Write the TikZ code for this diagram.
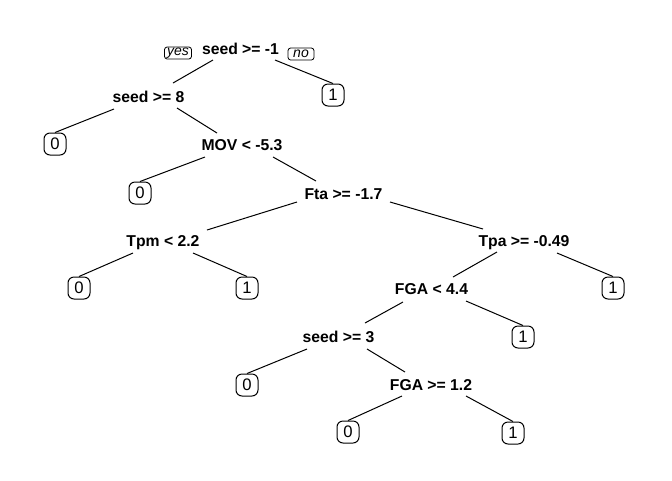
\documentclass[tikz,border=0pt]{standalone}
\usepackage{fontspec}
\setmainfont{Liberation Sans}
\usetikzlibrary{calc}
\begin{document}
\begin{tikzpicture}[x=0.75pt,y=-0.75pt,
  split/.style={font=\fontsize{11.8}{14}\selectfont\bfseries, inner sep=0pt, text height=8.45pt, text depth=0pt},
  leaf/.style={draw, line width=0.75pt, rounded corners=4.5pt, minimum width=16.5pt, minimum height=16.5pt, inner sep=0pt, font=\fontsize{12.5}{14}\selectfont},
  tag/.style={draw, line width=0.6pt, rounded corners=2pt, minimum height=9pt, inner sep=0pt, font=\fontsize{10.5}{11}\selectfont\itshape},
  branch/.style={line width=0.75pt}]
\useasboundingbox (0,0) rectangle (672,480);
% split nodes
\node[split] (R)  at (240.5,49)  {seed >= -1};
\node[split] (n2) at (148.5,97)  {seed >= 8};
\node[split] (n3) at (242,145)   {MOV < -5.3};
\node[split] (n4) at (343.5,193.5) {Fta >= -1.7};
\node[split] (n5) at (163,241)   {Tpm < 2.2};
\node[split] (n6) at (524,241)   {Tpa >= -0.49};
\node[split] (n7) at (431.5,289) {FGA < 4.4};
\node[split] (n8) at (338.5,337) {seed >= 3};
\node[split] (n9) at (431,385)   {FGA >= 1.2};
% yes / no
\node[tag, minimum width=20.25pt] (yes) at (178,53) {yes};
\node[tag, minimum width=19.5pt]  (no)  at (301,54) {no};
% leaves
\node[leaf] (L1)  at (333,95)  {1};
\node[leaf] (L2)  at (55,144)  {0};
\node[leaf] (L3)  at (140,193) {0};
\node[leaf] (L4)  at (79,288)  {0};
\node[leaf] (L5)  at (247,288) {1};
\node[leaf] (L6)  at (613,288) {1};
\node[leaf] (L7)  at (523,337) {1};
\node[leaf] (L8)  at (247,385) {0};
\node[leaf] (L9)  at (348,432) {0};
\node[leaf] (L10) at (513,433) {1};
% branches
\draw[branch] ($(R)+(-27.5,11)$) -- ($(n2)+(24.5,-14)$);
\draw[branch] ($(R)+(34.5,11)$) -- (L1.north);
\draw[branch] ($(n2)+(-34.5,12)$) -- (L2.north);
\draw[branch] ($(n2)+(28.5,11)$) -- ($(n3)+(-25,-12)$);
\draw[branch] ($(n3)+(-37,12)$) -- (L3.north);
\draw[branch] ($(n3)+(31,12)$) -- ($(n4)+(-27.5,-12.5)$);
\draw[branch] ($(n4)+(-46.5,8.5)$) -- ($(n5)+(44,-11)$);
\draw[branch] ($(n4)+(46.5,8.5)$) -- ($(n6)+(-41,-12)$);
\draw[branch] ($(n5)+(-30,12)$) -- (L4.north);
\draw[branch] ($(n5)+(30,12)$) -- (L5.north);
\draw[branch] ($(n6)+(-27,11)$) -- ($(n7)+(21.5,-12)$);
\draw[branch] ($(n6)+(33,12)$) -- (L6.north);
\draw[branch] ($(n7)+(-28.5,13)$) -- ($(n8)+(26.5,-14)$);
\draw[branch] ($(n7)+(34.5,12)$) -- (L7.north);
\draw[branch] ($(n8)+(-31.5,12)$) -- (L8.north);
\draw[branch] ($(n8)+(28.5,12)$) -- ($(n9)+(-26,-13)$);
\draw[branch] ($(n9)+(-29,11)$) -- (L9.north);
\draw[branch] ($(n9)+(35,11)$) -- (L10.north);
\end{tikzpicture}
\end{document}
